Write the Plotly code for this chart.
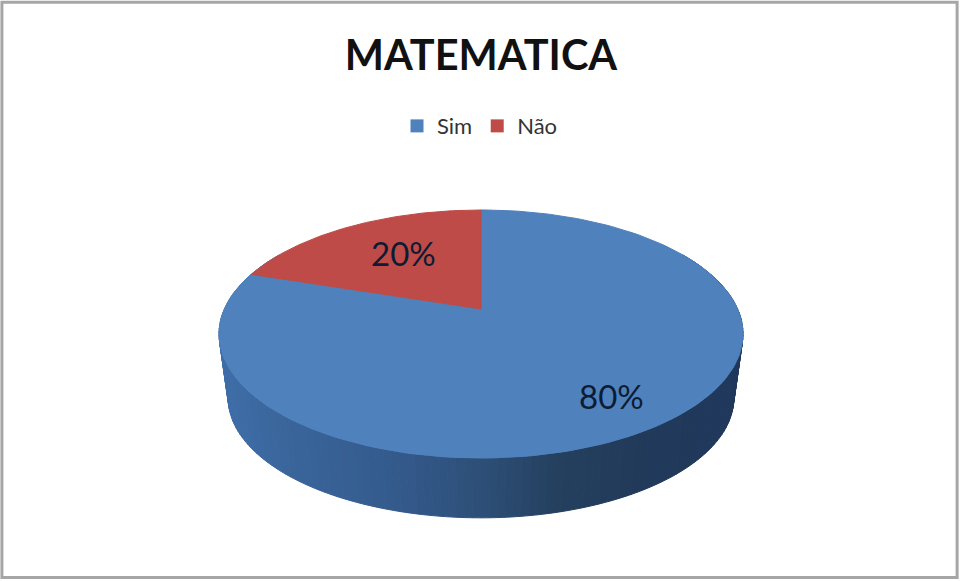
import numpy as np
import plotly.graph_objects as go

title = "MATEMATICA"
categories = ["Sim", "Não"]
values = [80, 20]
colors = ["#4F81BD", "#BE4B48"]
label_radius = [0.76, 0.56]
label_shift = [-3, 7]

# tilted-disc projection (drawing units equal screen pixels)
CX, CY, A, B, K = 481.0, 309.0, 256.6, 119.0, 0.2016
WALL_SCALE, WALL_DROP = 0.965, 65.0
wall_stops = [218, 290, 400, 480, 560, 650, 743]
wall_colors = [(63, 110, 168), (58, 101, 155), (52, 90, 140), (46, 80, 120),
               (37, 64, 95), (34, 58, 90), (31, 56, 92)]


def project(theta, r=1.0, scale=1.0, drop=0.0):
    u, v = r * np.sin(theta), r * np.cos(theta)
    d = 1 + K * v
    return CX + scale * A * u / d, CY + drop - scale * B * v / d


fig = go.Figure()

# side wall, back to front
edges = np.radians(np.arange(60, 301.5, 1.5))
for t0, t1 in zip(edges[:-1], edges[1:]):
    x0, y0 = project(t0)
    x1, y1 = project(t1)
    x2, y2 = project(t1, scale=WALL_SCALE, drop=WALL_DROP)
    x3, y3 = project(t0, scale=WALL_SCALE, drop=WALL_DROP)
    xm = (x0 + x1) / 2
    rgb = [int(np.interp(xm, wall_stops, [c[i] for c in wall_colors])) for i in range(3)]
    col = f"rgb({rgb[0]},{rgb[1]},{rgb[2]})"
    fig.add_trace(go.Scatter(x=[x0, x1, x2, x3, x0], y=[y0, y1, y2, y3, y0], mode="lines",
                             fill="toself", fillcolor=col, line=dict(color=col, width=1),
                             hoverinfo="skip", showlegend=False))

# top face wedges, clockwise from twelve o'clock
total = sum(values)
start = 0.0
for name, val, col, lr, ls in zip(categories, values, colors, label_radius, label_shift):
    end = start + val / total * 2 * np.pi
    th = np.linspace(start, end, 200)
    ex, ey = project(th)
    fig.add_trace(go.Scatter(x=np.r_[CX, ex, CX], y=np.r_[CY, ey, CY], mode="lines",
                             fill="toself", fillcolor=col, line=dict(color=col, width=1),
                             hoverinfo="skip", showlegend=False))
    fig.add_trace(go.Scatter(x=[None], y=[None], mode="markers", name=name,
                             marker=dict(symbol="square", size=13, color=col)))
    lx, ly = project((start + end) / 2, r=lr)
    fig.add_annotation(x=float(lx), y=float(ly), text=f"{val}%", showarrow=False, yshift=ls,
                       font=dict(family="Lato", size=33, color="#0c1c33"))
    start = end

fig.update_layout(
    width=960, height=581, autosize=False,
    margin=dict(l=0, r=0, t=0, b=0),
    paper_bgcolor="white", plot_bgcolor="white",
    font=dict(family="Lato"),
    title=dict(text=f"<b>{title}</b>", x=0.501, xanchor="center", y=0.905, yanchor="middle",
               font=dict(family="Lato", size=41.5, color="#111111")),
    xaxis=dict(range=[0, 960], visible=False, fixedrange=True),
    yaxis=dict(range=[581, 0], visible=False, fixedrange=True),
    legend=dict(orientation="h", x=0.5, xanchor="center", y=0.783, yanchor="middle",
                font=dict(family="Lato", size=22, color="#333333"), itemwidth=30,
                tracegroupgap=0),
    shapes=[dict(type="rect", xref="paper", yref="paper", x0=0.002, x1=0.997, y0=0.006, y1=0.996,
                 line=dict(color="#a6a6a6", width=3), fillcolor="rgba(0,0,0,0)", layer="below")],
)
fig.write_html("out.html", post_script="document.body.style.margin='0';",
               config=dict(displayModeBar=False))
